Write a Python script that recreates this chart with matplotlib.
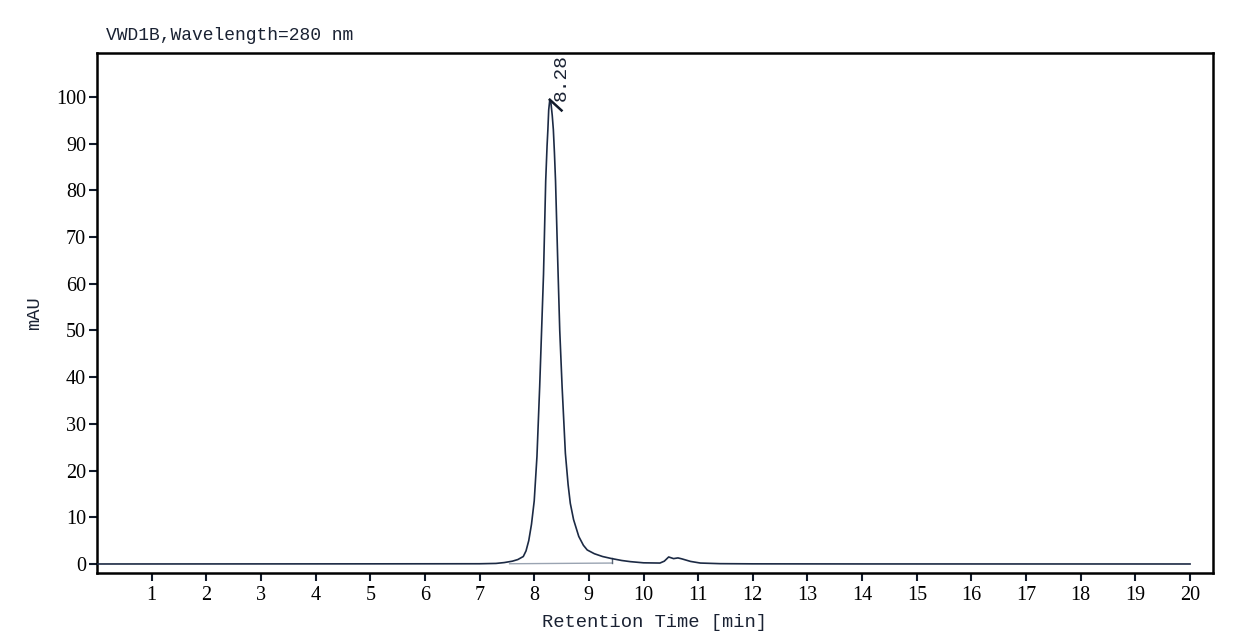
import matplotlib
matplotlib.use("Agg")
import matplotlib.pyplot as plt

# ---- data ----
time_min = [0, 5, 7.0, 7.3, 7.45, 7.6, 7.7, 7.8, 7.85, 7.9, 7.95, 8.0, 8.05, 8.1, 8.135, 8.17,
            8.21, 8.235, 8.25, 8.265, 8.285, 8.305, 8.33, 8.35, 8.37, 8.39, 8.43, 8.467, 8.51,
            8.57, 8.62, 8.66, 8.72, 8.815, 8.9, 8.97, 9.1, 9.25, 9.4, 9.6, 9.76, 10.0, 10.3,
            10.38, 10.46, 10.55, 10.63, 10.7, 10.86, 11.04, 11.4, 12, 14, 20]
signal_mau = [0, 0.03, 0.05, 0.12, 0.3, 0.6, 0.95, 1.6, 2.8, 5.0, 8.5, 13.5, 23, 38, 50, 62,
              82, 89.5, 93, 97.2, 99.4, 98.8, 96, 93, 88, 82, 65, 50, 38,
              23.7, 17, 13, 9.5, 5.9, 4.0, 3.0, 2.2, 1.6, 1.2, 0.75, 0.5, 0.25, 0.2,
              0.6, 1.5, 1.15, 1.3, 1.1, 0.55, 0.2, 0.07, 0.03, 0.01, 0]
peak_rt = 8.285
peak_height = 99.4
peak_label = "8.28"
integ_start = 7.55
integ_end = 9.43
x_ticks = list(range(1, 21))
y_ticks = list(range(0, 101, 10))

title = "VWD1B,Wavelength=280 nm"
xlabel = "Retention Time [min]"
ylabel = "mAU"

mono = ["Liberation Mono", "DejaVu Sans Mono"]
serif = ["Liberation Serif", "DejaVu Serif"]

fig = plt.figure(figsize=(12.4, 6.44), dpi=100)
ax = fig.add_axes([97/1240, 1 - 573/644, (1213-97)/1240, (573-53)/644])

line_col = "#1c2a44"
ax.plot(time_min, signal_mau, color=line_col, lw=1.2, zorder=3, solid_joinstyle="round")
# integration baseline and end marker
ax.plot([integ_start, integ_end], [0.05, 0.2], color="#9aa4b2", lw=1.0, zorder=2)
ax.plot([integ_end, integ_end], [0.2, 1.3], color="#5a6676", lw=1.0, zorder=2)
# peak apex marker
ax.plot([peak_rt, peak_rt + 0.215], [peak_height, peak_height - 2.3], color="#111a2a", lw=1.8, zorder=4)
ax.text(peak_rt + 0.215, peak_height - 0.3, peak_label, rotation=90, ha="center", va="bottom",
        fontsize=14, family=mono, color="#1a2233")

ax.set_xlim(0, 20.42)
ax.set_ylim(-1.93, 109.4)
ax.set_xticks(x_ticks)
ax.set_yticks(y_ticks)
ax.tick_params(axis="both", direction="out", length=6, width=1.5, labelsize=14.5, color="#111a2a")
ax.tick_params(axis="x", pad=3)
ax.tick_params(axis="y", pad=2)
for lab in ax.get_xticklabels() + ax.get_yticklabels():
    lab.set_family(serif)
for s in ax.spines.values():
    s.set_linewidth(1.8)
    s.set_color("black")

ax.set_xlabel(xlabel, fontsize=13.5, family=mono, labelpad=7, color="#1a2233")
ax.set_ylabel(ylabel, fontsize=13.5, family=mono, labelpad=9, color="#1a2233")
fig.text(106/1240, 1 - 35/644, title, fontsize=13, family=mono, va="center", ha="left", color="#1a2233")

fig.savefig("out.png", dpi=100, facecolor="white")
